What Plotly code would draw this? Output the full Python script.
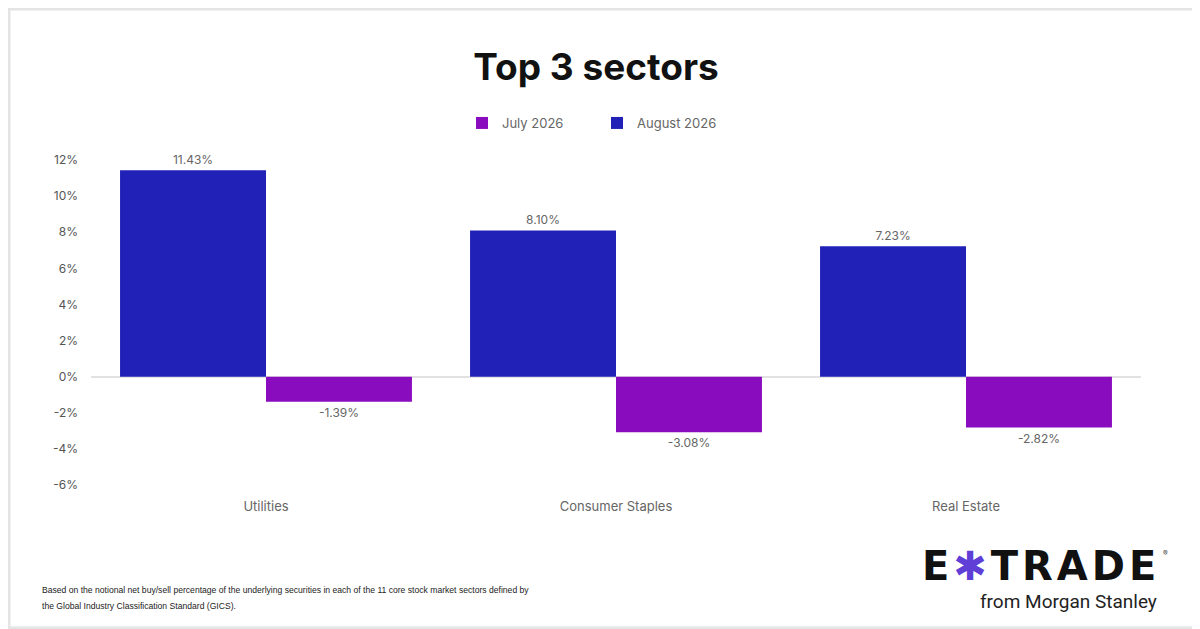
import plotly.graph_objects as go

# the page body adds an 8px margin, so work in page pixels and shift by OFF
OFF = 8
W, H = 1200 - OFF, 629 - OFF
PL, PR, PT, PB = 91, 1141, 160, 485          # plot area in page pixels
ML, MT = PL - OFF, PT - OFF
MR, MB = W - (PR - OFF), H - (PB - OFF)

sectors = ["Utilities", "Consumer Staples", "Real Estate"]
august_2026 = [11.43, 8.10, 7.23]
july_2026 = [-1.39, -3.08, -2.82]
y_ticks = [-6, -4, -2, 0, 2, 4, 6, 8, 10, 12]

BLUE = "#2121b8"
PURPLE = "#8a0cbf"

# page pixel -> paper coords
def px(x):
    return (x - PL) / (PR - PL)
def py(y):
    return (PB - y) / (PB - PT)

fig = go.Figure()
fig.add_trace(go.Bar(
    x=sectors, y=august_2026, name="August 2026",
    marker=dict(color=BLUE, line=dict(width=0)),
    texttemplate="%{y:.2f}%", textposition="outside",
    textfont=dict(color="#666666", size=12),
    cliponaxis=False, legendrank=2,
))
fig.add_trace(go.Bar(
    x=sectors, y=july_2026, name="July 2026",
    marker=dict(color=PURPLE, line=dict(width=0)),
    texttemplate="%{y:.2f}%", textposition="outside",
    textfont=dict(color="#666666", size=12),
    cliponaxis=False, legendrank=1,
))

foot_font = dict(family="Liberation Sans, Arial, sans-serif", size=8.6, color="#222222")

fig.update_layout(
    width=W, height=H,
    margin=dict(l=ML, r=MR, t=MT, b=MB),
    paper_bgcolor="white", plot_bgcolor="white",
    font=dict(family="Inter, Roboto, sans-serif", color="#666666", size=12),
    barmode="group", bargap=0.166, bargroupgap=0,
    title=dict(text="<b>Top 3 sectors</b>", x=(596 - OFF) / W, xref="container",
               xanchor="center", y=1 - (67 - OFF) / H, yanchor="middle",
               font=dict(size=37, color="#111111", family="Inter, Roboto, sans-serif")),
    legend=dict(orientation="h", x=(597 - OFF) / W, xanchor="center", xref="container",
                y=1 - (123 - OFF) / H, yanchor="middle", yref="container",
                font=dict(size=13, color="#666666"), itemwidth=30,
                entrywidth=90, itemclick=False),
    showlegend=True,
    xaxis=dict(showgrid=False, showline=False, ticks="",
               tickfont=dict(size=13, color="#666666"), ticklabelstandoff=12),
    yaxis=dict(range=[-6, 12], tickvals=y_ticks,
               ticktext=[f"{v}%" for v in y_ticks],
               showgrid=False, zeroline=True, zerolinecolor="#e2e2e2",
               zerolinewidth=1.5, showline=False, ticks="",
               tickfont=dict(size=12, color="#555555"), ticklabelstandoff=12),
    annotations=[
        dict(text="Based on the notional net buy/sell percentage of the underlying securities in each of the 11 core stock market sectors defined by",
             x=px(40), y=py(590), xref="paper", yref="paper",
             xanchor="left", yanchor="middle", align="left", showarrow=False,
             font=foot_font),
        dict(text="the Global Industry Classification Standard (GICS).",
             x=px(40), y=py(606), xref="paper", yref="paper",
             xanchor="left", yanchor="middle", align="left", showarrow=False,
             font=foot_font),
        dict(text="<b>E\u200a<span style='color:#5f3fd6'>✱</span>\u200aT\u200aR\u200aA\u200aD\u200aE</b>",
             x=px(1158), y=py(566), xref="paper", yref="paper",
             xanchor="right", yanchor="middle", showarrow=False,
             font=dict(family="DejaVu Sans, sans-serif", size=40, color="#111111")),
        dict(text="®", x=px(1161), y=py(553), xref="paper", yref="paper",
             xanchor="left", yanchor="middle", showarrow=False,
             font=dict(size=7, color="#444444")),
        dict(text="from Morgan Stanley",
             x=px(1159), y=py(601), xref="paper", yref="paper",
             xanchor="right", yanchor="middle", showarrow=False,
             font=dict(family="Roboto, sans-serif", size=19, color="#222222")),
    ],
    shapes=[
        dict(type="rect", xref="paper", yref="paper",
             x0=px(OFF + 1), x1=px(1199), y0=py(628), y1=py(OFF + 1),
             line=dict(color="#e4e4e4", width=3), layer="below"),
    ],
)

fig.write_html("out.html")
